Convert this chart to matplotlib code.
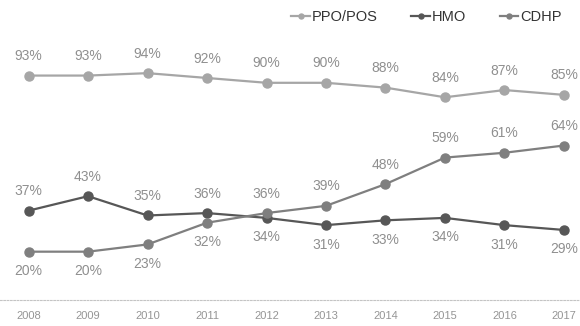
import matplotlib
matplotlib.use("Agg")
import matplotlib.pyplot as plt

plt.rcParams['font.family'] = ['Liberation Sans', 'DejaVu Sans']

years = [2008, 2009, 2010, 2011, 2012, 2013, 2014, 2015, 2016, 2017]
ppo_pos = [93, 93, 94, 92, 90, 90, 88, 84, 87, 85]
hmo = [37, 43, 35, 36, 34, 31, 33, 34, 31, 29]
cdhp = [20, 20, 23, 32, 36, 39, 48, 59, 61, 64]

# label placement: +1 above the point, -1 below
ppo_side = [1] * 10
hmo_side = [1, 1, 1, 1, -1, -1, -1, -1, -1, -1]
cdhp_side = [-1, -1, -1, -1, 1, 1, 1, 1, 1, 1]

series = [
    ("PPO/POS", ppo_pos, ppo_side, "#a6a6a6"),
    ("HMO", hmo, hmo_side, "#575757"),
    ("CDHP", cdhp, cdhp_side, "#7f7f7f"),
]

fig = plt.figure(figsize=(5.8, 3.26), dpi=100)
ax = fig.add_axes([0.0, 0.08, 1.0, 0.74])

x = list(range(len(years)))
for name, vals, sides, color in series:
    ax.plot(x, vals, color=color, lw=1.6, marker='o', ms=6.5,
            markerfacecolor=color, markeredgecolor=color, label=name)
    for xi, v, s in zip(x, vals, sides):
        ax.annotate(f"{v}%", (xi, v), xytext=(0, 14 * s), textcoords='offset points',
                    ha='center', va='center', fontsize=10, color='#8f8f8f')

ax.set_xlim(-0.48, 9.27)
ax.set_ylim(0, 100)
ax.set_yticks([])
ax.set_xticks(x)
ax.set_xticklabels([str(y) for y in years], fontsize=8, color='#959595')
ax.tick_params(axis='x', length=0, pad=8)
for sp in ['top', 'left', 'right']:
    ax.spines[sp].set_visible(False)
ax.spines['bottom'].set_color('#c4c4c4')
ax.spines['bottom'].set_linestyle((0, (1.5, 1.5)))
ax.spines['bottom'].set_linewidth(0.8)
ax.patch.set_alpha(0)

leg = fig.legend(loc='upper right', bbox_to_anchor=(0.968, 0.968), ncol=3,
                 frameon=False, fontsize=10.5, handlelength=1.3, columnspacing=2.3,
                 handletextpad=0.1, markerscale=0.55, borderpad=0, borderaxespad=0)
for t in leg.get_texts():
    t.set_color('#333333')

fig.savefig("out.png", dpi=100)
